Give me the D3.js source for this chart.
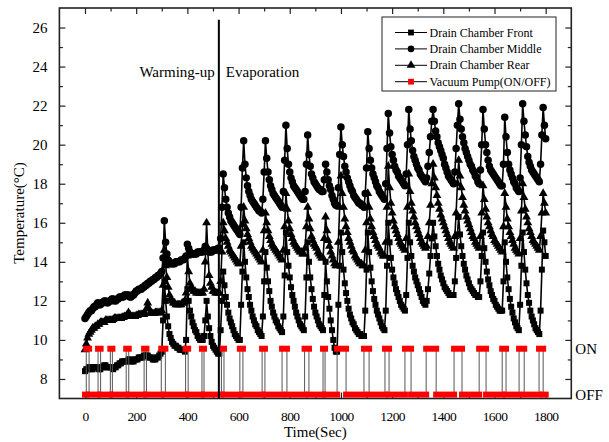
<!DOCTYPE html>
<html>
<head>
<meta charset="utf-8">
<script src="https://cdn.jsdelivr.net/npm/d3@7"></script>
</head>
<body style="margin:0;background:#fff">
<svg id="chart" width="609" height="442"></svg>
<script>
const FONT = '"Liberation Serif", "Times New Roman", Times, serif';

// Sampling grid of the temperature logs (seconds)
const timeSec = d3.range(0, 1801, 5);

// Drain chamber temperatures (°C), one value per 5 s sample
const frontTemp = [
  8.4, 8.5, 8.5, 8.6, 8.6, 8.5, 8.5, 8.6, 8.6, 8.6, 8.6, 8.5, 8.5, 8.6, 8.6, 8.7, 8.7, 8.6, 8.6, 8.6,
  8.6, 8.6, 8.5, 8.6, 8.6, 8.7, 8.7, 8.8, 8.8, 8.9, 8.9, 8.9, 8.9, 8.9, 9.0, 9.0, 8.9, 8.9, 8.9, 9.0,
  9.0, 9.0, 9.1, 9.1, 9.1, 9.1, 9.2, 9.2, 9.2, 9.2, 9.1, 9.1, 9.1, 9.0, 9.0, 9.0, 9.1, 9.1, 9.2, 9.3,
  9.4, 11.0, 13.0, 12.0, 11.2, 10.7, 10.3, 10.1, 9.9, 9.8, 9.7, 9.7, 9.6, 9.6, 9.5, 9.5, 9.5, 9.5, 9.4, 10.0,
  12.6, 12.0, 11.5, 11.2, 10.9, 10.7, 10.5, 10.4, 10.2, 10.1, 10.0, 10.0, 10.0, 10.2, 11.0, 12.0, 11.2, 10.6, 10.2, 9.9,
  9.7, 9.6, 9.5, 9.4, 9.3, 9.3, 10.5, 12.0, 13.5, 12.8, 12.2, 11.8, 11.4, 11.1, 10.9, 10.7, 10.5, 10.3, 10.2, 10.1,
  10.0, 10.0, 11.8, 13.5, 15.0, 14.0, 13.2, 12.6, 12.2, 11.8, 11.5, 11.2, 11.0, 10.8, 10.7, 10.5, 10.4, 10.3, 10.2, 11.2,
  13.0, 14.5, 13.7, 13.0, 12.5, 12.0, 11.7, 11.4, 11.2, 11.0, 10.9, 10.7, 10.6, 10.5, 10.4, 11.2, 13.3, 15.5, 14.5, 13.8,
  13.2, 12.7, 12.3, 12.0, 11.7, 11.4, 11.2, 11.0, 10.8, 10.7, 10.6, 10.5, 11.2, 13.2, 15.0, 14.0, 13.2, 12.6, 12.1, 11.7,
  11.4, 11.2, 11.0, 10.8, 10.7, 10.6, 10.5, 12.3, 14.0, 13.0, 12.2, 11.6, 11.0, 10.5, 10.0, 9.6, 9.4, 9.4, 11.8, 13.8,
  15.5, 14.5, 13.6, 12.9, 12.4, 12.0, 11.6, 11.3, 11.1, 10.9, 10.8, 10.6, 10.5, 10.4, 10.3, 10.3, 10.2, 10.2, 10.2, 11.5,
  13.6, 15.5, 14.5, 13.7, 13.0, 12.5, 12.1, 11.8, 11.5, 11.3, 11.1, 10.9, 10.7, 10.6, 10.5, 11.5, 13.8, 16.0, 15.0, 14.2,
  13.6, 13.2, 12.9, 12.6, 12.4, 12.2, 12.0, 11.8, 11.7, 11.6, 11.5, 12.3, 14.2, 16.0, 15.0, 14.3, 13.8, 13.5, 13.2, 13.0,
  12.8, 12.6, 12.4, 12.2, 12.0, 11.9, 11.8, 12.0, 12.6, 13.4, 14.3, 15.2, 16.0, 15.3, 14.8, 14.3, 13.9, 13.6, 13.3, 13.1,
  12.9, 12.7, 12.6, 12.5, 12.4, 12.3, 12.3, 12.3, 12.3, 13.0, 14.2, 15.4, 16.3, 15.4, 14.8, 14.3, 13.9, 13.6, 13.3, 13.1,
  12.9, 12.7, 12.6, 12.5, 12.4, 12.3, 12.3, 12.2, 12.2, 13.0, 14.3, 15.5, 14.7, 14.0, 13.5, 13.1, 12.8, 12.5, 12.3, 12.1,
  12.0, 11.8, 11.7, 11.6, 11.5, 11.5, 11.5, 13.0, 15.0, 14.0, 13.2, 12.6, 12.1, 11.7, 11.4, 11.1, 10.9, 10.7, 10.6, 10.5,
  11.8, 13.8, 15.5, 14.5, 13.6, 12.9, 12.3, 11.9, 11.5, 11.2, 11.0, 10.8, 10.6, 10.5, 10.4, 10.3, 11.5, 13.6, 15.6, 15.0,
  14.3
];
const middleTemp = [
  11.1, 11.2, 11.3, 11.4, 11.5, 11.5, 11.6, 11.7, 11.7, 11.8, 11.9, 11.8, 11.8, 11.9, 11.9, 12.0, 12.0, 11.9, 11.9, 12.0,
  12.0, 12.1, 12.1, 12.0, 12.0, 12.1, 12.1, 12.2, 12.2, 12.2, 12.2, 12.3, 12.3, 12.3, 12.3, 12.2, 12.2, 12.3, 12.3, 12.4,
  12.5, 12.5, 12.6, 12.6, 12.6, 12.7, 12.7, 12.8, 12.8, 12.9, 12.9, 13.0, 13.0, 13.1, 13.1, 13.2, 13.2, 13.3, 13.3, 13.4,
  13.5, 14.2, 16.1, 15.0, 14.4, 14.1, 14.0, 13.9, 13.9, 13.9, 13.9, 14.0, 14.0, 14.0, 14.0, 14.1, 14.1, 14.1, 14.2, 14.3,
  14.9, 14.7, 14.5, 14.4, 14.4, 14.4, 14.4, 14.4, 14.5, 14.5, 14.5, 14.5, 14.5, 14.6, 14.8, 14.7, 14.6, 14.5, 14.5, 14.5,
  14.6, 14.6, 14.6, 14.6, 14.7, 14.7, 15.2, 16.8, 18.5, 17.8, 17.2, 16.8, 16.5, 16.3, 16.1, 16.0, 15.9, 15.8, 15.7, 15.6,
  15.5, 15.4, 16.8, 18.8, 20.2, 19.0, 18.3, 17.9, 17.6, 17.4, 17.2, 17.1, 17.0, 16.9, 16.8, 16.7, 16.6, 16.6, 16.5, 17.2,
  18.6, 20.2, 19.3, 18.6, 18.2, 17.9, 17.7, 17.5, 17.4, 17.3, 17.2, 17.1, 17.0, 16.9, 16.8, 17.6, 19.2, 21.0, 19.8, 19.0,
  18.6, 18.3, 18.1, 17.9, 17.8, 17.7, 17.6, 17.5, 17.4, 17.3, 17.2, 17.2, 17.6, 19.0, 20.5, 19.5, 18.9, 18.5, 18.3, 18.1,
  18.0, 17.9, 17.8, 17.7, 17.7, 17.6, 17.6, 18.2, 19.0, 18.6, 18.2, 17.9, 17.7, 17.4, 17.2, 17.0, 16.9, 16.9, 17.8, 19.5,
  20.9, 20.0, 19.4, 18.9, 18.6, 18.3, 18.1, 17.9, 17.7, 17.6, 17.4, 17.3, 17.2, 17.1, 17.0, 17.0, 16.9, 16.9, 16.8, 17.5,
  18.8, 20.66, 19.8, 19.2, 18.8, 18.5, 18.3, 18.1, 17.9, 17.8, 17.6, 17.5, 17.4, 17.3, 17.2, 18.0, 19.8, 21.6, 20.6, 19.9,
  19.5, 19.2, 18.9, 18.7, 18.6, 18.4, 18.3, 18.2, 18.1, 18.0, 17.9, 18.5, 20.0, 21.8, 20.8, 20.2, 19.7, 19.4, 19.2, 19.0,
  18.8, 18.7, 18.5, 18.4, 18.3, 18.2, 18.1, 18.3, 18.9, 19.6, 20.4, 21.2, 21.8, 21.2, 20.7, 20.4, 20.1, 19.9, 19.7, 19.5,
  19.3, 19.0, 18.8, 18.6, 18.4, 18.3, 18.2, 18.1, 18.0, 18.6, 19.8, 21.0, 22.1, 21.3, 20.8, 20.4, 20.1, 19.8, 19.6, 19.4,
  19.2, 19.0, 18.9, 18.7, 18.6, 18.4, 18.3, 18.1, 18.0, 18.7, 20.0, 21.8, 20.8, 20.0, 19.6, 19.2, 18.9, 18.7, 18.6, 18.5,
  18.4, 18.3, 18.2, 18.1, 18.0, 17.9, 17.9, 19.0, 21.4, 20.4, 19.6, 19.0, 18.7, 18.5, 18.3, 18.1, 18.0, 17.8, 17.7, 17.6,
  18.3, 20.0, 22.1, 21.2, 20.5, 19.9, 19.4, 19.1, 18.9, 18.7, 18.6, 18.5, 18.4, 18.3, 18.2, 18.1, 19.0, 20.5, 21.9, 21.0,
  20.3
];
const rearTemp = [
  9.5, 9.8, 10.1, 10.3, 10.4, 10.5, 10.6, 10.6, 10.7, 10.7, 10.8, 10.8, 10.9, 10.9, 10.9, 10.9, 11.0, 11.0, 11.0, 11.0,
  11.0, 11.0, 11.05, 11.1, 11.1, 11.1, 11.1, 11.1, 11.1, 11.15, 11.15, 11.2, 11.2, 11.3, 11.4, 11.3, 11.2, 11.2, 11.2, 11.2,
  11.25, 11.25, 11.3, 11.3, 11.3, 11.3, 11.3, 11.35, 11.6, 11.9, 11.6, 11.4, 11.35, 11.35, 11.35, 11.4, 11.4, 11.4, 11.4, 11.4,
  11.5, 12.8, 14.6, 13.8, 13.2, 12.7, 12.3, 12.1, 12.0, 11.9, 11.9, 11.8, 11.8, 11.8, 11.8, 11.8, 11.9, 11.9, 12.0, 12.4,
  14.3, 13.5, 12.9, 12.7, 12.6, 12.5, 12.5, 12.4, 12.4, 12.4, 12.4, 12.4, 12.4, 12.6, 14.0, 16.0, 14.5, 13.3, 12.9, 12.7,
  12.5, 12.5, 12.4, 12.4, 12.4, 12.4, 13.0, 14.5, 16.0, 15.6, 15.2, 15.0, 14.8, 14.6, 14.5, 14.4, 14.3, 14.2, 14.1, 14.0,
  13.9, 13.9, 14.8, 15.9, 16.8, 16.1, 15.7, 15.4, 15.2, 15.0, 14.8, 14.7, 14.6, 14.5, 14.4, 14.3, 14.2, 14.1, 14.0, 14.6,
  15.6, 16.5, 16.0, 15.6, 15.3, 15.1, 14.9, 14.8, 14.7, 14.6, 14.5, 14.4, 14.3, 14.2, 14.1, 14.6, 15.8, 17.5, 16.7, 16.1,
  15.7, 15.4, 15.2, 15.0, 14.9, 14.8, 14.7, 14.6, 14.5, 14.5, 14.4, 14.4, 14.7, 15.8, 16.8, 16.2, 15.7, 15.3, 15.1, 14.9,
  14.8, 14.7, 14.5, 14.4, 14.3, 14.2, 14.2, 15.2, 16.3, 15.6, 15.1, 14.8, 14.5, 14.3, 14.1, 13.9, 13.8, 13.8, 15.0, 16.8,
  18.4, 17.5, 16.8, 16.2, 15.8, 15.5, 15.2, 15.0, 14.8, 14.6, 14.5, 14.3, 14.2, 14.1, 14.0, 13.9, 13.9, 13.8, 13.8, 14.6,
  16.0, 17.5, 16.8, 16.2, 15.8, 15.5, 15.3, 15.1, 14.9, 14.8, 14.7, 14.5, 14.4, 14.3, 14.3, 15.0, 16.8, 18.9, 17.8, 17.0,
  16.5, 16.1, 15.8, 15.6, 15.4, 15.2, 15.0, 14.9, 14.8, 14.7, 14.6, 15.2, 16.8, 18.5, 17.6, 17.0, 16.6, 16.3, 16.0, 15.8,
  15.6, 15.4, 15.2, 15.0, 14.9, 14.8, 14.7, 14.8, 15.3, 16.0, 16.9, 18.0, 19.0, 18.3, 17.8, 17.4, 17.0, 16.7, 16.4, 16.2,
  16.0, 15.8, 15.6, 15.4, 15.2, 15.0, 14.9, 14.8, 14.7, 15.3, 16.5, 18.0, 19.2, 18.4, 17.8, 17.3, 16.9, 16.6, 16.3, 16.1,
  15.9, 15.7, 15.5, 15.3, 15.2, 15.0, 14.9, 14.8, 14.7, 15.3, 16.5, 17.9, 17.2, 16.7, 16.3, 16.0, 15.8, 15.6, 15.4, 15.3,
  15.1, 15.0, 14.9, 14.8, 14.7, 14.6, 14.5, 15.8, 17.5, 16.8, 16.2, 15.8, 15.5, 15.3, 15.1, 14.9, 14.7, 14.6, 14.5, 14.4,
  15.2, 16.6, 18.0, 17.3, 16.7, 16.3, 16.0, 15.7, 15.5, 15.3, 15.1, 15.0, 14.9, 14.8, 14.7, 14.6, 15.3, 16.5, 17.5, 17.0,
  16.5
];

// Vacuum pump switching: start / end of each ON period (s)
const pumpOnStart = [5, 51, 99, 161, 231, 298, 393, 457, 533, 605, 692, 770, 858, 930, 985, 1090, 1172, 1250, 1333, 1442, 1540, 1630, 1696, 1774];
const pumpOnEnd   = [16, 61, 107, 171, 240, 314, 403, 465, 543, 617, 703, 789, 875, 938, 1020, 1110, 1188, 1274, 1372, 1473, 1567, 1645, 1716, 1790];
const pumpLevelOn = 9.55;   // plotted level for ON (°C axis units)
const pumpLevelOff = 7.2;   // plotted level for OFF
const logEnd = 1800;

// Phase boundary between warming-up and evaporation
const phaseBoundary = 523;
const phaseLineTop = 26.4;

// Axis ticks
const xMajorTicks = [0, 200, 400, 600, 800, 1000, 1200, 1400, 1600, 1800];
const xMinorTicks = [100, 300, 500, 700, 900, 1100, 1300, 1500, 1700];
const yMajorTicks = [8, 10, 12, 14, 16, 18, 20, 22, 24, 26];
const yMinorTicks = [9, 11, 13, 15, 17, 19, 21, 23, 25];

const svg = d3.select("#chart");
const L = 59.4, R = 571.3, T = 8, B = 398.5;
const x = d3.scaleLinear().domain([-100, 1900]).range([L, R]);
const y = d3.scaleLinear().domain([7, 27]).range([B, T]);

// Tick marks (inward on all four sides)
function ticks(axisFn, scale, vals, len, transform, labels) {
  const g = svg.append("g").attr("transform", transform)
    .call(axisFn(scale).tickValues(vals).tickSize(-len).tickPadding(labels ? 6 + len : 0)
      .tickFormat(labels ? d3.format("d") : () => ""));
  g.select(".domain").remove();
  g.selectAll(".tick line").attr("stroke", "#222").attr("stroke-width", 1.2);
  g.selectAll("text").style("font-family", FONT).attr("fill", "#000");
  return g;
}
const xb = ticks(d3.axisBottom, x, xMajorTicks, 6, `translate(0,${B})`, true);
xb.selectAll("text").style("font-size", "13.5px").style("letter-spacing", "-0.6px").attr("dy", "0.75em");
ticks(d3.axisBottom, x, xMinorTicks, 3.5, `translate(0,${B})`, false);
ticks(d3.axisTop, x, xMajorTicks, 6, `translate(0,${T})`, false);
ticks(d3.axisTop, x, xMinorTicks, 3.5, `translate(0,${T})`, false);
const yl = ticks(d3.axisLeft, y, yMajorTicks, 6, `translate(${L},0)`, true);
yl.selectAll("text").style("font-size", "15px");
ticks(d3.axisLeft, y, yMinorTicks, 3.5, `translate(${L},0)`, false);
ticks(d3.axisRight, y, yMajorTicks, 6, `translate(${R},0)`, false);
ticks(d3.axisRight, y, yMinorTicks, 3.5, `translate(${R},0)`, false);

// Right-hand ON / OFF labels
const yr = svg.append("g").attr("transform", `translate(${R},0)`)
  .call(d3.axisRight(y).tickValues([pumpLevelOn, pumpLevelOff]).tickSize(0).tickPadding(4)
    .tickFormat(d => d === pumpLevelOn ? "ON" : "OFF"));
yr.select(".domain").remove();
yr.selectAll("text").style("font-family", FONT).style("font-size", "15px").attr("fill", "#000");

// Frame
svg.append("rect").attr("x", L).attr("y", T).attr("width", R - L).attr("height", B - T)
  .attr("fill", "none").attr("stroke", "#222").attr("stroke-width", 1.6);

// Temperature series
const series = [
  { name: "Drain Chamber Front",  values: frontTemp,  symbol: d3.symbolSquare,   size: 36 },
  { name: "Drain Chamber Middle", values: middleTemp, symbol: d3.symbolCircle,   size: 44 },
  { name: "Drain Chamber Rear",   values: rearTemp,   symbol: d3.symbolTriangle, size: 34 }
];
const line = d3.line().x(d => x(d[0])).y(d => y(d[1]));
series.forEach(s => {
  const pts = timeSec.map((t, i) => [t, s.values[i]]);
  svg.append("path").attr("d", line(pts)).attr("fill", "none")
    .attr("stroke", "#000").attr("stroke-width", 1.6);
  svg.append("g").selectAll("path").data(pts).join("path")
    .attr("transform", d => `translate(${x(d[0])},${y(d[1])})`)
    .attr("d", d3.symbol(s.symbol, s.size)).attr("fill", "#000");
});

// Vacuum pump ON/OFF trace
const pumpSteps = [[0, pumpLevelOff]];
pumpOnStart.forEach((s, i) => {
  const e = pumpOnEnd[i];
  pumpSteps.push([s, pumpLevelOff], [s, pumpLevelOn], [e, pumpLevelOn], [e, pumpLevelOff]);
});
pumpSteps.push([logEnd, pumpLevelOff]);
svg.append("path").attr("d", line(pumpSteps)).attr("fill", "none")
  .attr("stroke", "#555").attr("stroke-width", 1);

const pumpSegs = [];
let prev = 0;
pumpOnStart.forEach((s, i) => {
  pumpSegs.push({ a: prev, b: s, level: pumpLevelOff });
  pumpSegs.push({ a: s, b: pumpOnEnd[i], level: pumpLevelOn });
  prev = pumpOnEnd[i];
});
pumpSegs.push({ a: prev, b: logEnd, level: pumpLevelOff });
const half = 3;
svg.append("g").selectAll("rect").data(pumpSegs).join("rect")
  .attr("x", d => x(d.a) - half).attr("width", d => x(d.b) - x(d.a) + 2 * half)
  .attr("y", d => y(d.level) - half).attr("height", 2 * half)
  .attr("fill", "#ff0000");

// Phase divider and labels
svg.append("line").attr("x1", x(phaseBoundary)).attr("x2", x(phaseBoundary))
  .attr("y1", y(7)).attr("y2", y(phaseLineTop)).attr("stroke", "#000").attr("stroke-width", 2);
function label(sel, size) {
  return sel.style("font-family", FONT).style("font-size", size + "px").attr("fill", "#000");
}
label(svg.append("text").attr("x", x(phaseBoundary) - 4).attr("y", 77).attr("text-anchor", "end"), 15)
  .text("Warming-up");
label(svg.append("text").attr("x", x(phaseBoundary) + 7).attr("y", 77), 15)
  .text("Evaporation");

// Axis titles
label(svg.append("text").attr("x", (L + R) / 2).attr("y", 437).attr("text-anchor", "middle"), 15)
  .text("Time(Sec)");
label(svg.append("text").attr("transform", "translate(24,213) rotate(-90)").attr("text-anchor", "middle"), 15)
  .text("Temperature(°C)");

// Legend
const lg = svg.append("g");
lg.append("rect").attr("x", 382).attr("y", 17).attr("width", 174).attr("height", 74)
  .attr("fill", "#fff").attr("stroke", "#222").attr("stroke-width", 1);
const legendItems = series.map(s => ({ name: s.name, symbol: s.symbol, size: 34, color: "#000" }))
  .concat([{ name: "Vacuum Pump(ON/OFF)", symbol: d3.symbolSquare, size: 34, color: "#ff0000" }]);
legendItems.forEach((d, i) => {
  const cy = 32.5 + i * 16.4;
  lg.append("line").attr("x1", 395).attr("x2", 427).attr("y1", cy).attr("y2", cy)
    .attr("stroke", "#000").attr("stroke-width", 1);
  lg.append("path").attr("transform", `translate(411,${cy})`)
    .attr("d", d3.symbol(d.symbol, d.size)).attr("fill", d.color);
  label(lg.append("text").attr("x", 429.5).attr("y", cy + 4), 12).text(d.name);
});
</script>
</body>
</html>
